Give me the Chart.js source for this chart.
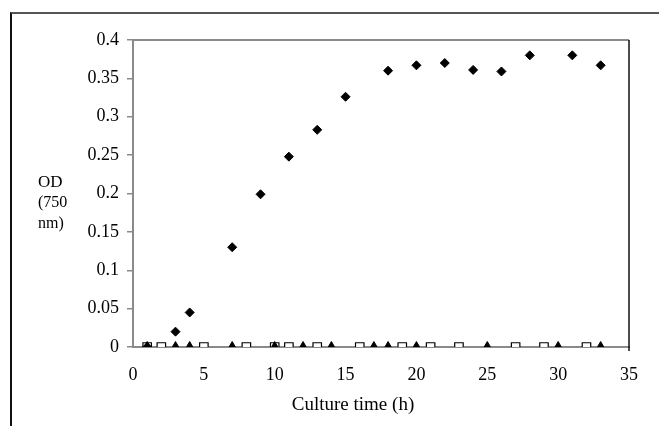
<!DOCTYPE html>
<html>
<head>
<meta charset="utf-8">
<script src="https://cdn.jsdelivr.net/npm/chart.js@4/dist/chart.umd.min.js"></script>
<style>
  html,body{margin:0;padding:0;background:#fff;}
  #wrap{position:relative;width:659px;height:426px;}
  #frame{position:absolute;left:10px;top:12px;right:0;bottom:0;border-top:2px solid #555;border-left:2px solid #111;pointer-events:none;}
  canvas{position:absolute;left:0;top:0;}
</style>
</head>
<body>
<div id="wrap">
  <canvas id="chart" width="659" height="426"></canvas>
  <div id="frame"></div>
</div>
<script>
/* culture growth data */
const growthTime = [1,3,4,7,9,11,13,15,18,20,22,24,26,28,31,33];
const growthOD = [0,0.02,0.045,0.13,0.199,0.248,0.283,0.326,0.36,0.367,0.37,0.361,0.359,0.38,0.38,0.367];

const triTime = [1,3,4,7,10,12,14,17,18,20,25,30,33];
const triOD = [0,0,0,0,0,0,0,0,0,0,0,0,0];

const sqTime = [1,2,5,8,10,11,13,16,19,21,23,27,29,32];
const sqOD = [0,0,0,0,0,0,0,0,0,0,0,0,0,0];

const xTicks = [0,5,10,15,20,25,30,35];
const yTicks = [0,0.05,0.1,0.15,0.2,0.25,0.3,0.35,0.4];

const serif = '"Liberation Serif","Times New Roman",serif';
const axisGray = '#8a8a8a';

function pts(xs, ys){
  return xs.map((x,i)=>({x:x,y:ys[i]}));
}

const plotFrame = {
  id:'plotFrame',
  afterDraw(chart){
    const ctx = chart.ctx;
    const a = chart.chartArea;
    ctx.save();
    // top border of plot area
    ctx.strokeStyle = axisGray;
    ctx.lineWidth = 2;
    ctx.beginPath();
    ctx.moveTo(a.left, a.top);
    ctx.lineTo(a.right, a.top);
    ctx.stroke();
    // right border
    ctx.strokeStyle = '#111';
    ctx.lineWidth = 1.5;
    ctx.beginPath();
    ctx.moveTo(a.right, a.top);
    ctx.lineTo(a.right, a.bottom + 4);
    ctx.stroke();
    // axis titles
    ctx.fillStyle = '#000';
    ctx.textBaseline = 'middle';
    ctx.textAlign = 'center';
    ctx.font = '19px ' + serif;
    ctx.fillText('Culture time (h)', 353, 405);
    ctx.textAlign = 'left';
    ctx.font = '17px ' + serif;
    ctx.fillText('OD', 38, 183);
    ctx.font = '16px ' + serif;
    ctx.fillText('(750', 38, 203);
    ctx.fillText('nm)', 38, 224);
    ctx.restore();
  }
};

new Chart(document.getElementById('chart').getContext('2d'),{
  type:'scatter',
  data:{
    datasets:[
      {
        data:pts(growthTime, growthOD),
        pointStyle:'rectRot',
        pointRadius:4.5,
        pointBackgroundColor:'#000',
        pointBorderColor:'#000',
        pointBorderWidth:1
      },
      {
        data:pts(triTime, triOD),
        pointStyle:'triangle',
        pointRadius:5.5,
        pointBackgroundColor:'#000',
        pointBorderColor:'#000',
        pointBorderWidth:1
      },
      {
        data:pts(sqTime, sqOD),
        pointStyle:'rect',
        pointRadius:6,
        pointBackgroundColor:'#fff',
        pointBorderColor:'#000',
        pointBorderWidth:1.2
      }
    ]
  },
  options:{
    responsive:false,
    animation:false,
    layout:{padding:{left:0,top:40,right:30,bottom:0}},
    plugins:{
      legend:{display:false},
      tooltip:{enabled:false}
    },
    scales:{
      x:{
        type:'linear',
        min:0,max:35,
        afterFit(s){ s.height = 79; },
        afterBuildTicks(s){ s.ticks = xTicks.map(v=>({value:v})); },
        grid:{display:true,drawOnChartArea:false,drawTicks:false},
        border:{display:true,color:axisGray,width:2},
        ticks:{color:'#000',font:{family:serif,size:18},padding:17,maxRotation:0,autoSkip:false}
      },
      y:{
        min:0,max:0.4,
        afterFit(s){ s.width = 133; },
        afterBuildTicks(s){ s.ticks = yTicks.map(v=>({value:v})); },
        grid:{display:true,drawOnChartArea:false,drawTicks:true,tickLength:6,color:axisGray,lineWidth:1.5},
        border:{display:true,color:axisGray,width:2},
        ticks:{color:'#000',font:{family:serif,size:18},padding:8,
          callback:v=>String(+v.toFixed(2))}
      }
    }
  },
  plugins:[plotFrame]
});
</script>
</body>
</html>
